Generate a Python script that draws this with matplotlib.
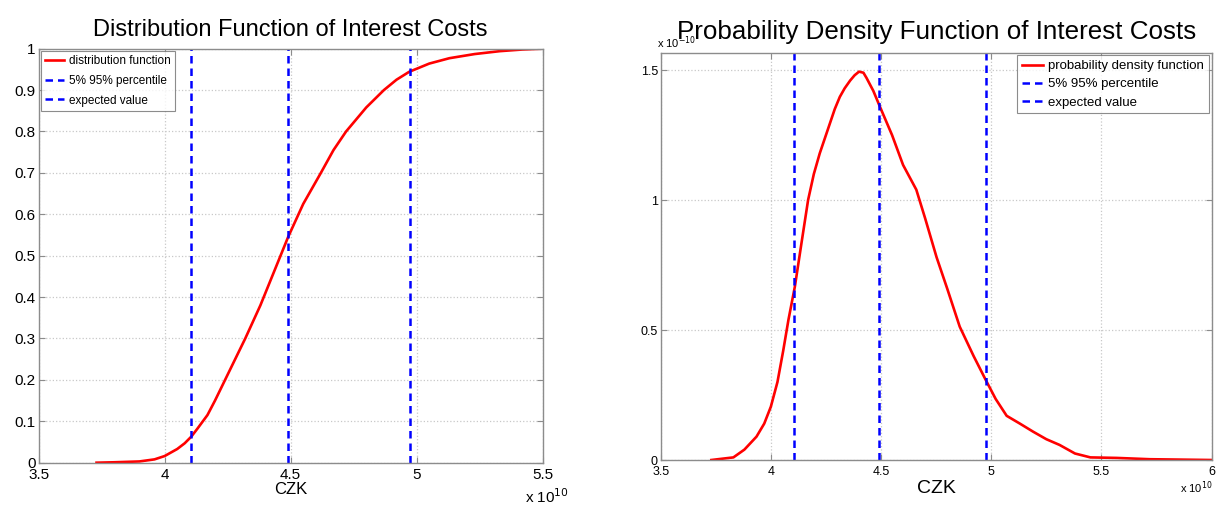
import matplotlib
matplotlib.use("Agg")
import matplotlib.pyplot as plt
from matplotlib.ticker import FixedLocator

plt.rcParams["font.family"] = ["Liberation Sans", "DejaVu Sans"]

# x values in units of 10^10 CZK
CDF_X = [3.73, 3.80, 3.90, 3.96, 4.00, 4.05, 4.08, 4.106, 4.13, 4.17, 4.20,
         4.24, 4.28, 4.32, 4.38, 4.44, 4.49, 4.55, 4.62, 4.67, 4.72, 4.80,
         4.87, 4.92, 4.97, 5.05, 5.13, 5.23, 5.33, 5.42, 5.50]
CDF_Y = [0.0, 0.001, 0.003, 0.008, 0.016, 0.033, 0.047, 0.063, 0.082, 0.115, 0.15,
         0.20, 0.25, 0.30, 0.38, 0.47, 0.545, 0.625, 0.70, 0.755, 0.80, 0.858,
         0.90, 0.925, 0.944, 0.964, 0.977, 0.987, 0.994, 0.998, 1.0]

PDF_X = [3.73, 3.83, 3.88, 3.935, 3.97, 4.0, 4.03, 4.056, 4.08, 4.109, 4.14,
         4.169, 4.195, 4.222, 4.25, 4.27, 4.29, 4.313, 4.335, 4.36, 4.38, 4.40,
         4.42, 4.434, 4.465, 4.495, 4.55, 4.60, 4.66, 4.70, 4.752, 4.80, 4.857,
         4.92, 4.975, 5.02, 5.07, 5.13, 5.19, 5.25, 5.31, 5.38, 5.45, 5.57, 5.72,
         6.0]
PDF_Y = [0.0, 0.01, 0.04, 0.09, 0.14, 0.205, 0.30, 0.42, 0.54, 0.667, 0.84,
         1.0, 1.10, 1.18, 1.25, 1.30, 1.35, 1.397, 1.43, 1.46, 1.48, 1.494,
         1.49, 1.47, 1.42, 1.359, 1.25, 1.135, 1.04, 0.93, 0.78, 0.66, 0.513,
         0.40, 0.308, 0.235, 0.17, 0.14, 0.109, 0.08, 0.058, 0.025, 0.01, 0.008,
         0.003, 0.0]

PERCENTILES = [4.106, 4.975]
EXPECTED = 4.49

X_TICKS_L = [3.5, 4, 4.5, 5, 5.5]
Y_TICKS_L = [0, 0.1, 0.2, 0.3, 0.4, 0.5, 0.6, 0.7, 0.8, 0.9, 1]
X_TICKS_R = [3.5, 4, 4.5, 5, 5.5, 6]
Y_TICKS_R = [0, 0.5, 1, 1.5]

SPINE = "#8c8c8c"
GRID = "#c8c8c8"


def style(ax, xt, yt, fs):
    ax.xaxis.set_major_locator(FixedLocator(xt))
    ax.yaxis.set_major_locator(FixedLocator(yt))
    ax.set_xticklabels([f"{v:g}" for v in xt])
    ax.set_yticklabels([f"{v:g}" for v in yt])
    ax.tick_params(direction="in", length=4, color=SPINE, labelsize=fs,
                   top=True, right=True, pad=2)
    ax.tick_params(axis="x", pad=4)
    for s in ax.spines.values():
        s.set_color(SPINE)
        s.set_linewidth(1.0)
    ax.grid(True, linestyle=":", color=GRID, linewidth=0.9)
    ax.set_axisbelow(True)


def legend(ax, loc, fs, spacing):
    leg = ax.legend(loc=loc, fontsize=fs, frameon=True, fancybox=False,
                    handlelength=1.6, handletextpad=0.4, borderpad=0.35,
                    labelspacing=spacing, borderaxespad=0.2)
    leg.get_frame().set_edgecolor("#707070")
    leg.get_frame().set_linewidth(0.8)


fig = plt.figure(figsize=(12.16, 5.07), dpi=100)

# left: distribution function
ax1 = fig.add_axes([0.0317, 0.0874, 0.4146, 0.8166])
ax1.plot(CDF_X, CDF_Y, color="red", lw=1.9, label="distribution function")
for i, p in enumerate(PERCENTILES):
    ax1.axvline(p, color="blue", ls=(0, (3, 2)), lw=1.8,
                label="5% 95% percentile" if i == 0 else None)
ax1.axvline(EXPECTED, color="blue", ls=(0, (3, 2)), lw=1.8, label="expected value")
ax1.set_xlim(3.5, 5.5)
ax1.set_ylim(0, 1)
style(ax1, X_TICKS_L, Y_TICKS_L, 11)
ax1.set_xlabel("CZK", fontsize=12, labelpad=0)
ax1.set_title("Distribution Function of Interest Costs", fontsize=17, pad=9)
ax1.text(0.965, -0.083, r"x 10$^{10}$", transform=ax1.transAxes, fontsize=11,
         ha="left", va="center")
legend(ax1, "upper left", 8.5, 0.65)

# right: probability density function
ax2 = fig.add_axes([0.5433, 0.0927, 0.4531, 0.8034])
ax2.plot(PDF_X, PDF_Y, color="red", lw=1.9, label="probability density function")
for i, p in enumerate(PERCENTILES):
    ax2.axvline(p, color="blue", ls=(0, (3, 2)), lw=1.8,
                label="5% 95% percentile" if i == 0 else None)
ax2.axvline(EXPECTED, color="blue", ls=(0, (3, 2)), lw=1.8, label="expected value")
ax2.set_xlim(3.5, 6)
ax2.set_ylim(0, 1.567)
style(ax2, X_TICKS_R, Y_TICKS_R, 9)
ax2.set_xlabel("CZK", fontsize=14, labelpad=2)
ax2.set_title("Probability Density Function of Interest Costs", fontsize=18.7, pad=10)
ax2.text(0.9425, -0.069, r"x 10$^{10}$", transform=ax2.transAxes, fontsize=8,
         ha="left", va="center")
ax2.text(-0.007, 1.024, r"x 10$^{-10}$", transform=ax2.transAxes, fontsize=8,
         ha="left", va="center")
legend(ax2, "upper right", 9.5, 0.45)

fig.savefig("out.png", dpi=100)
